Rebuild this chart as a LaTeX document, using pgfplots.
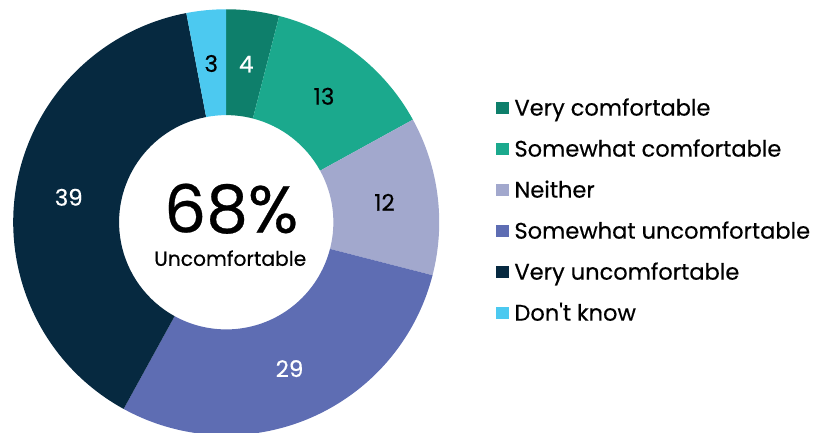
\documentclass[border=0pt]{standalone}
\usepackage{pgfplots}
\pgfplotsset{compat=1.18}
\usepackage{pgfplotstable}
\usepackage{fontspec}
\setmainfont{Poppins}[FakeBold=0.4]

\definecolor{vcomf}{HTML}{0E7F6B}
\definecolor{scomf}{HTML}{1BA98D}
\definecolor{neither}{HTML}{A2A8CD}
\definecolor{sunc}{HTML}{5E6DB3}
\definecolor{vunc}{HTML}{062940}
\definecolor{dk}{HTML}{4CC9F0}

% share of answers, slice colour, label colour, legend name
\pgfplotstableread[col sep=comma]{
value,fill,text,name
4,vcomf,white,Very comfortable
13,scomf,black,Somewhat comfortable
12,neither,black,Neither
29,sunc,white,Somewhat uncomfortable
39,vunc,white,Very uncomfortable
3,dk,black,Don\textquotesingle t know
}\donut

\def\cx{224.3}\def\cy{211}   % centre of the ring
\def\ro{213.7}\def\ri{107.5}  % outer / inner radius
\def\rl{160}                   % radius of the value labels
\newcommand\get[2]{\csname don#1#2\endcsname}

\begin{document}
% start and end angle of every slice, clockwise from the top
\gdef\cum{0}
\foreach \i in {0,...,5}{%
  \pgfplotstablegetelem{\i}{value}\of\donut \let\v\pgfplotsretval
  \pgfmathsetmacro\s{90-3.6*\cum}%
  \pgfmathsetmacro\nc{\cum+\v}%
  \pgfmathsetmacro\e{90-3.6*\nc}%
  \pgfmathsetmacro\m{(\s+\e)/2}%
  \expandafter\xdef\csname donv\i\endcsname{\v}%
  \expandafter\xdef\csname dons\i\endcsname{\s}%
  \expandafter\xdef\csname done\i\endcsname{\e}%
  \expandafter\xdef\csname donm\i\endcsname{\m}%
  \pgfplotstablegetelem{\i}{fill}\of\donut
  \expandafter\xdef\csname donf\i\endcsname{\pgfplotsretval}%
  \pgfplotstablegetelem{\i}{text}\of\donut
  \expandafter\xdef\csname dont\i\endcsname{\pgfplotsretval}%
  \pgfplotstablegetelem{\i}{name}\of\donut
  \expandafter\global\expandafter\let\csname donn\i\endcsname\pgfplotsretval
  \xdef\cum{\nc}%
}%
\begin{tikzpicture}
\begin{axis}[
  x=1pt, y=1pt,
  xmin=0, xmax=814, ymin=0, ymax=434,
  hide axis,
  clip=true,
  ]
  \pgfplotsinvokeforeach{0,...,5}{
    \fill[\get{f}{#1}]
      (axis cs:{\cx+\ro*cos(\get{s}{#1})},{\cy+\ro*sin(\get{s}{#1})})
      arc[start angle=\get{s}{#1}, end angle=\get{e}{#1}, radius=\ro pt]
      -- (axis cs:{\cx+\ri*cos(\get{e}{#1})},{\cy+\ri*sin(\get{e}{#1})})
      arc[start angle=\get{e}{#1}, end angle=\get{s}{#1}, radius=\ri pt]
      -- cycle;
    \node[text=\get{t}{#1}, font=\fontsize{23}{23}\selectfont, inner sep=0pt]
      at (axis cs:{\cx+\rl*cos(\get{m}{#1})},{\cy+\rl*sin(\get{m}{#1})}) {\get{v}{#1}};
    % legend
    \fill[\get{f}{#1}] (axis cs:495,{434-108.3-41.15*#1-6.35})
      rectangle (axis cs:507.7,{434-108.3-41.15*#1+6.35});
    \node[anchor=base west, inner sep=0pt, font=\fontsize{22.6}{22.6}\selectfont]
      at (axis cs:513.3,{434-116-41.15*#1}) {\get{n}{#1}};
  }
  \node[anchor=base, inner sep=0pt, font=\fontsize{66.5}{66.5}\selectfont]
    at (axis cs:229.3,200.7) {68\%};
  \node[anchor=base, inner sep=0pt, font=\fontsize{20.3}{20.3}\selectfont]
    at (axis cs:228.3,167.3) {Uncomfortable};
\end{axis}
\pgfresetboundingbox
\path[use as bounding box] (current axis.south west) rectangle (current axis.north east);
\end{tikzpicture}
\end{document}
